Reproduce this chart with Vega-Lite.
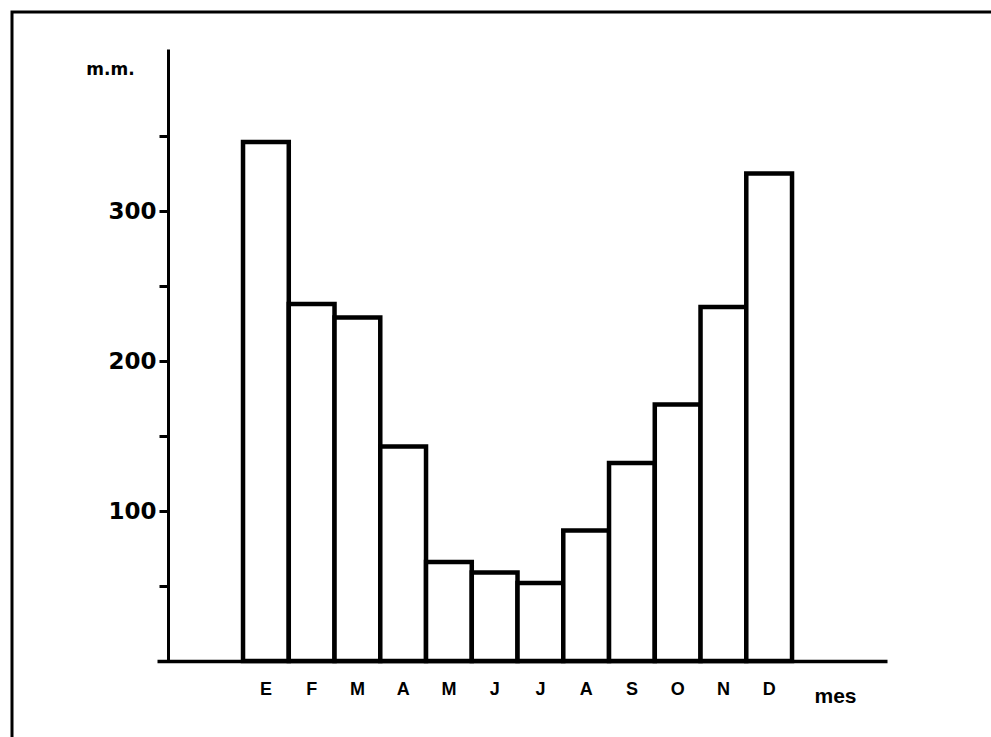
{
  "$schema": "https://vega.github.io/schema/vega-lite/v6.json",
  "autosize": "none",
  "padding": {"left": 12, "top": 12, "right": 0, "bottom": 0},
  "width": 979,
  "height": 725,
  "background": "white",
  "config": {
    "view": {"stroke": "black", "strokeWidth": 3, "strokeDash": [979, 1704, 725]},
    "axis": {"domainColor": "black", "tickColor": "black", "labelColor": "black", "titleColor": "black", "grid": false}
  },
  "data": {
    "values": [
      {"mes": "Enero", "mm": 346},
      {"mes": "Febrero", "mm": 238},
      {"mes": "Marzo", "mm": 229},
      {"mes": "Abril", "mm": 143},
      {"mes": "Mayo", "mm": 66},
      {"mes": "Junio", "mm": 59},
      {"mes": "Julio", "mm": 52},
      {"mes": "Agosto", "mm": 87},
      {"mes": "Septiembre", "mm": 132},
      {"mes": "Octubre", "mm": 171},
      {"mes": "Noviembre", "mm": 236},
      {"mes": "Diciembre", "mm": 325}
    ]
  },
  "mark": {"type": "bar", "fill": "white", "stroke": "black", "strokeWidth": 4.5, "strokeJoin": "miter"},
  "encoding": {
    "x": {
      "field": "mes",
      "type": "ordinal",
      "sort": null,
      "scale": {
        "domain": ["_1", "Enero", "Febrero", "Marzo", "Abril", "Mayo", "Junio", "Julio", "Agosto", "Septiembre", "Octubre", "Noviembre", "Diciembre", "_2"],
        "range": [145, 875],
        "paddingInner": 0,
        "paddingOuter": 0.978,
        "align": 0.45
      },
      "axis": {
        "orient": "bottom",
        "offset": -76,
        "domainWidth": 3.5,
        "ticks": false,
        "labelAngle": 0,
        "labelExpr": "indexof(datum.label, '_') == 0 ? '' : substring(datum.label, 0, 1)",
        "labelFont": "Liberation Sans",
        "labelFontWeight": "bold",
        "labelFontSize": 18,
        "labelPadding": 19,
        "title": "mes",
        "titleFont": "Liberation Sans",
        "titleFontWeight": "bold",
        "titleFontSize": 21,
        "titleAlign": "center",
        "titleBaseline": "alphabetic",
        "titleX": 823,
        "titleY": 41
      }
    },
    "y": {
      "field": "mm",
      "type": "quantitative",
      "scale": {"domain": [0, 408], "range": [649, 37], "nice": false, "zero": true},
      "axis": {
        "orient": "left",
        "offset": -156,
        "domainWidth": 3,
        "values": [50, 100, 150, 200, 250, 300, 350],
        "labelExpr": "datum.value % 100 == 0 ? datum.label : ''",
        "tickSize": 9,
        "tickWidth": 3,
        "labelFont": "DejaVu Sans",
        "labelFontWeight": "bold",
        "labelFontSize": 23,
        "labelPadding": 3,
        "title": "m.m.",
        "titleAngle": 0,
        "titleFont": "DejaVu Sans",
        "titleFontWeight": "bold",
        "titleFontSize": 17,
        "titleAlign": "center",
        "titleBaseline": "alphabetic",
        "titleX": -58,
        "titleY": 62
      }
    }
  }
}
